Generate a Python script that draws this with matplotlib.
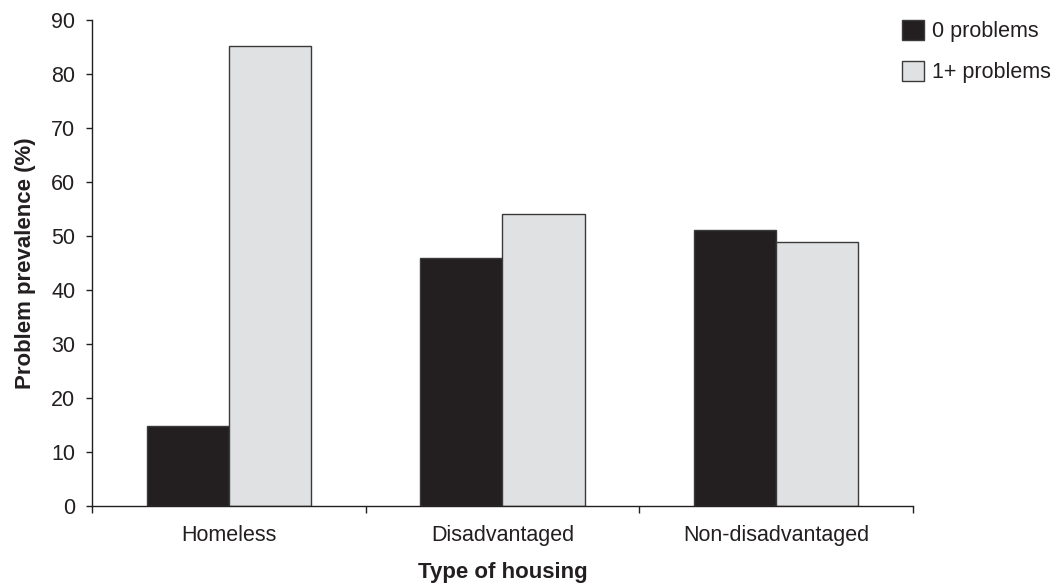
import matplotlib
matplotlib.use("Agg")
import matplotlib.pyplot as plt
import numpy as np

plt.rcParams['font.family'] = ['Liberation Sans', 'DejaVu Sans']

categories = ["Homeless", "Disadvantaged", "Non-disadvantaged"]
zero_problems = [14.8, 46.0, 51.1]
one_plus_problems = [85.2, 54.0, 48.9]
series_labels = ["0 problems", "1+ problems"]
y_ticks = [0, 10, 20, 30, 40, 50, 60, 70, 80, 90]

dark = "#231f20"
light = "#e0e1e3"
edge = "#3a3a3a"
text_col = "#231f20"
fs = 15.5
fs_title = 16

fig = plt.figure(figsize=(10.55, 5.83), dpi=100)
ax = fig.add_axes([92 / 1055, 1 - 506 / 583, (913 - 92) / 1055, (506 - 20) / 583])

x = np.arange(len(categories))
w = 0.3
b0 = ax.bar(x - w / 2, zero_problems, width=w, color=dark, edgecolor=edge, linewidth=1.0,
            label=series_labels[0])
b1 = ax.bar(x + w / 2, one_plus_problems, width=w, color=light, edgecolor=edge, linewidth=1.0,
            label=series_labels[1])

ax.set_xlim(-0.5, len(categories) - 0.5)
ax.set_ylim(0, 90)
ax.set_yticks(y_ticks)
ax.tick_params(axis='y', direction='out', length=4.5, width=1, labelsize=fs,
               colors=text_col, pad=7.5)

# category names centred in each group; tick marks on the group boundaries
ax.set_xticks(np.arange(-0.5, len(categories), 1.0))
ax.set_xticklabels([])
ax.set_xticks(x, minor=True)
ax.set_xticklabels(categories, minor=True)
ax.tick_params(axis='x', which='major', direction='out', length=5, width=1, colors=text_col)
ax.tick_params(axis='x', which='minor', length=0, labelsize=fs, pad=14, colors=text_col)

for s in ["top", "right"]:
    ax.spines[s].set_visible(False)
for s in ["left", "bottom"]:
    ax.spines[s].set_linewidth(1.0)
    ax.spines[s].set_color(text_col)

ax.set_ylabel("Problem prevalence (%)", fontsize=fs_title, fontweight='bold', labelpad=11,
              color=text_col)
ax.set_xlabel("Type of housing", fontsize=fs_title, fontweight='bold', labelpad=11,
              color=text_col)

leg = fig.legend(handles=[b0, b1], labels=series_labels, loc='upper left',
                 bbox_to_anchor=(902 / 1055, 1 - 20 / 583), frameon=False, borderpad=0,
                 handlelength=1.03, handleheight=1.03, handletextpad=0.38, labelspacing=0.88,
                 fontsize=fs, borderaxespad=0)
for t in leg.get_texts():
    t.set_color(text_col)

fig.savefig("out.png", dpi=100)
